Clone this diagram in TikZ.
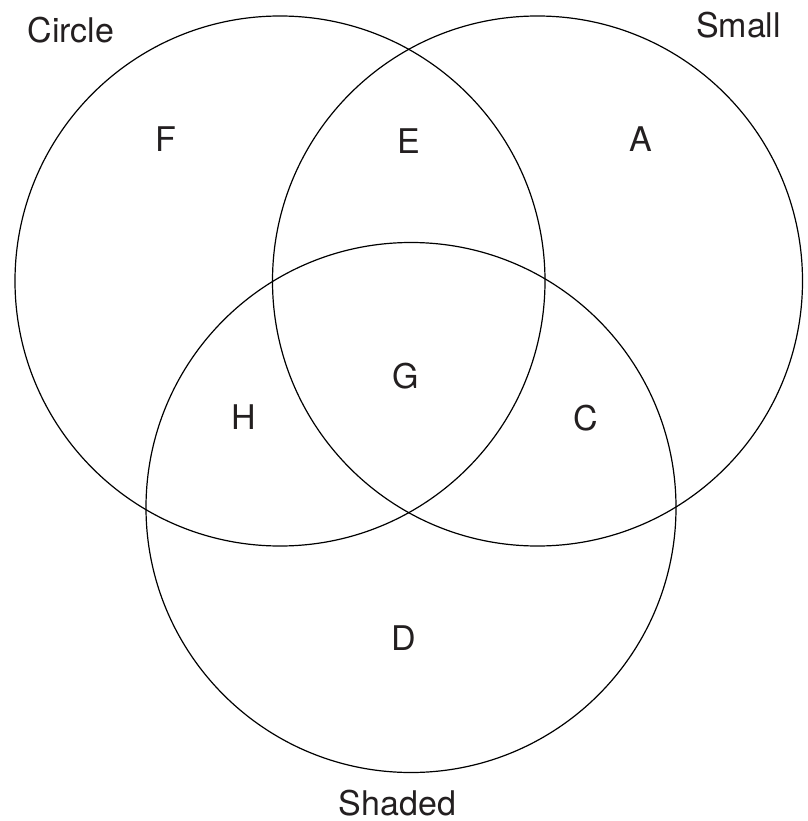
\documentclass[tikz,border=0pt]{standalone}
\usepackage{fontspec}
\setmainfont{TeX Gyre Heros}
\begin{document}
\begin{tikzpicture}[x=1pt,y=-1pt,
  ring/.style={draw=black,line width=1.2pt,circle,minimum size=530pt,inner sep=0pt},
  lbl/.style={font=\fontsize{34}{36}\selectfont,text=txt,inner sep=0pt,anchor=center}]
\definecolor{txt}{HTML}{231F20}
\useasboundingbox (0,0) rectangle (807,821);
\node[ring] (circ) at (280,281) {};
\node[ring] (small) at (537.5,281) {};
\node[ring] (shaded) at (411,507.5) {};
\node[lbl] (tc) at (71,30) {Circle};
\node[lbl] (ts) at (738.5,25) {Small};
\node[lbl] (tsh) at (397.5,803) {Shaded};
\node[lbl] (F) at (166,139.5) {F};
\node[lbl] (E) at (409,141.5) {E};
\node[lbl] (A) at (641,139) {A};
\node[lbl] (G) at (405.5,376) {G};
\node[lbl] (H) at (243.5,417) {H};
\node[lbl] (C) at (586,418) {C};
\node[lbl] (D) at (404,638) {D};
\end{tikzpicture}
\end{document}
